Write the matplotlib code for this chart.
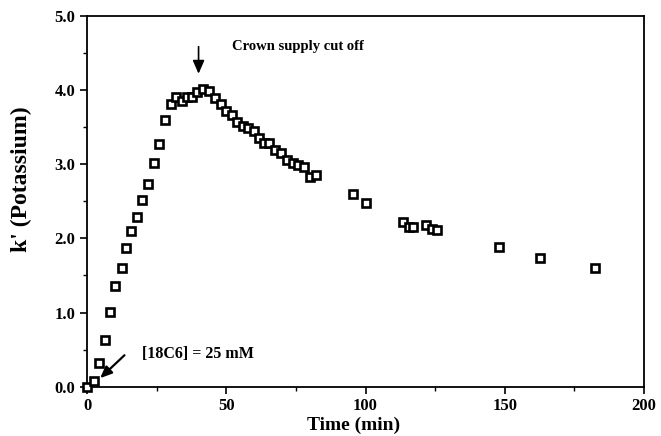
import matplotlib
matplotlib.use("Agg")
from matplotlib import pyplot as plt
from matplotlib.ticker import MultipleLocator

# time (min) and k' values
time_min = [0, 2.3, 4.4, 6.2, 8.1, 10.1, 12.4, 13.8, 15.9, 17.9, 19.6, 21.9,
            24.0, 25.8, 28.1, 30.0, 31.8, 34.1, 36.0, 37.8, 39.6, 41.7, 43.8,
            45.9, 47.9, 49.7, 51.9, 53.7, 55.8, 57.8, 59.9, 61.8, 63.6, 65.4,
            67.4, 69.5, 71.7, 73.8, 75.8, 77.9, 80.0, 82.1, 95.6, 100.1,
            113.6, 115.6, 117.1, 121.8, 123.8, 125.8, 148.0, 162.8, 182.3]
k_potassium = [0.0, 0.08, 0.32, 0.63, 1.01, 1.36, 1.60, 1.87, 2.10, 2.29, 2.51, 2.73,
               3.01, 3.27, 3.60, 3.81, 3.91, 3.85, 3.91, 3.91, 3.97, 4.01, 3.99,
               3.89, 3.81, 3.72, 3.66, 3.57, 3.51, 3.49, 3.44, 3.35, 3.28, 3.28,
               3.19, 3.15, 3.06, 3.01, 2.99, 2.96, 2.83, 2.85, 2.60, 2.48,
               2.22, 2.15, 2.15, 2.18, 2.13, 2.11, 1.88, 1.74, 1.60]

x_ticks = [0, 50, 100, 150, 200]
y_ticks = [0.0, 1.0, 2.0, 3.0, 4.0, 5.0]

plt.rcParams['font.family'] = ['Liberation Serif', 'DejaVu Serif']
plt.rcParams['font.weight'] = 'bold'

fig = plt.figure(figsize=(6.61, 4.36), dpi=100)
ax = fig.add_axes([0.132, 0.113, 0.842, 0.851])

ax.plot(time_min, k_potassium, linestyle='none', marker='s', markersize=5.2,
        markerfacecolor='white', markeredgecolor='black', markeredgewidth=1.9,
        clip_on=False, zorder=3)

ax.set_xlim(0, 200)
ax.set_ylim(0, 5)
ax.set_xticks(x_ticks)
ax.set_xticklabels([str(v) for v in x_ticks])
ax.set_yticks(y_ticks)
ax.set_yticklabels(["%.1f" % v for v in y_ticks])
ax.xaxis.set_minor_locator(MultipleLocator(25))
ax.yaxis.set_minor_locator(MultipleLocator(0.5))
ax.tick_params(which='major', direction='out', length=5, width=1.2,
               labelsize=12, top=False, right=False)
ax.tick_params(axis='x', which='major', pad=3)
ax.tick_params(which='minor', direction='out', length=3, width=1,
               top=False, right=False)
for lab in ax.get_xticklabels() + ax.get_yticklabels():
    lab.set_fontweight('bold')
for s in ax.spines.values():
    s.set_linewidth(1.3)

ax.set_xlabel("Time (min)", fontsize=14, fontweight='bold', labelpad=0)
ax.xaxis.set_label_coords(0.478, -0.082)
ax.set_ylabel("k' (Potassium)", fontsize=17, fontweight='bold')
ax.yaxis.set_label_coords(-0.1, 0.56)

# annotations
ax.annotate("", xy=(40, 4.18), xytext=(40, 4.62),
            arrowprops=dict(arrowstyle='-|>,head_width=0.35,head_length=0.8',
                            color='black', lw=1.2))
ax.text(52, 4.58, "Crown supply cut off", fontsize=10.5, fontweight='bold',
        va='center', ha='left')

ax.annotate("", xy=(3.9, 0.09), xytext=(14.1, 0.45),
            arrowprops=dict(arrowstyle='-|>,head_width=0.3,head_length=0.7',
                            color='black', lw=1.6))
ax.text(19.6, 0.44, "[18C6] = 25 mM", fontsize=11.5, fontweight='bold',
        va='center', ha='left')

fig.savefig("out.png", dpi=100)
